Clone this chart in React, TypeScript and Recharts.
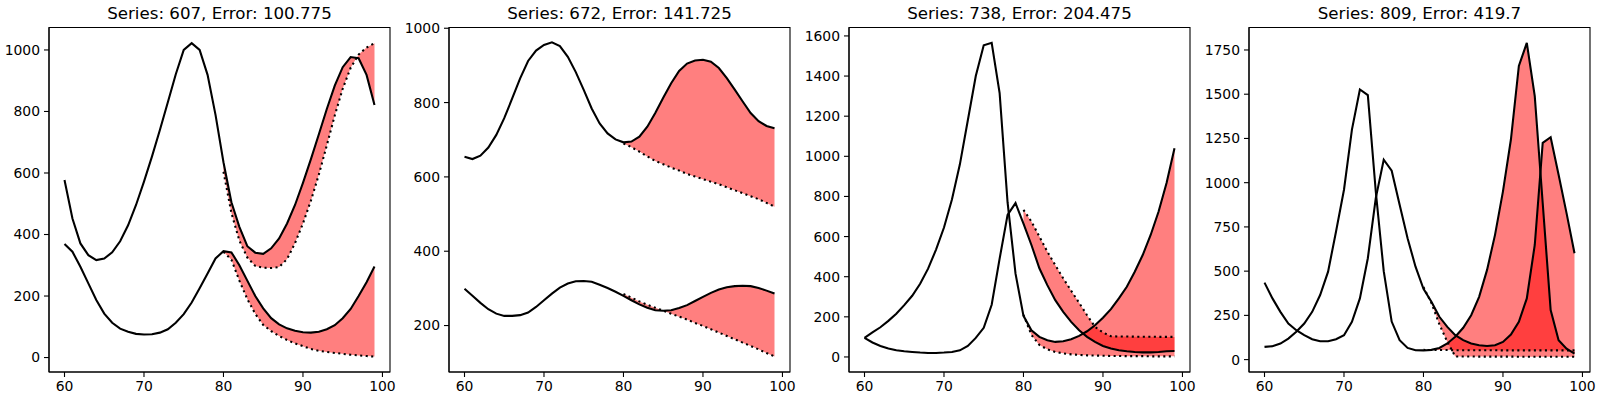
import React from 'react';
import { ComposedChart, Line, Area, XAxis, YAxis, ReferenceArea } from 'recharts';

// x positions (time steps)
const X = [60, 61, 62, 63, 64, 65, 66, 67, 68, 69, 70, 71, 72, 73, 74, 75, 76, 77, 78, 79,
  80, 81, 82, 83, 84, 85, 86, 87, 88, 89, 90, 91, 92, 93, 94, 95, 96, 97, 98, 99];
const FORECAST_START = 80;
const X_TICKS = [60, 70, 80, 90, 100];
const X_DOMAIN: [number, number] = [58.05, 100.95];

const TITLES = [
  'Series: 607, Error: 100.775',
  'Series: 672, Error: 141.725',
  'Series: 738, Error: 204.475',
  'Series: 809, Error: 419.7',
];

// Panel 1 (Series 607)
const P1_A = [577, 452, 371, 333, 317, 322, 342, 378, 430, 496, 572, 653, 740, 830, 921, 1000, 1022, 1000, 919, 789,
  635, 505, 425, 362, 341, 337, 355, 387, 436, 496, 568, 645, 726, 808, 884, 944, 977, 973, 919, 821];
const P1_B = [369, 344, 295, 241, 187, 143, 113, 94, 84, 77, 75, 76, 81, 92, 113, 141, 179, 225, 273, 322,
  346, 342, 300, 250, 200, 160, 128, 108, 95, 87, 82, 81, 84, 92, 105, 128, 158, 200, 245, 296];
const P1_PA = [604, 470, 380, 325, 298, 292, 291, 294, 320, 372, 436, 510, 595, 690, 787, 874, 942, 985, 1008, 1022];
const P1_PB = [344, 318, 250, 190, 142, 106, 86, 70, 57, 46, 37, 28, 22, 18, 15, 12, 9, 7, 5, 3];
const P1_YTICKS = [0, 200, 400, 600, 800, 1000];
const P1_YDOMAIN: [number, number] = [-47, 1073];

// Panel 2 (Series 672)
const P2_A = [654, 648, 657, 679, 713, 758, 811, 865, 912, 940, 955, 962, 952, 923, 882, 834, 784, 744, 717, 701,
  693, 695, 708, 735, 772, 813, 852, 885, 905, 913, 915, 910, 893, 866, 835, 803, 772, 750, 737, 731];
const P2_B = [299, 280, 261, 244, 232, 226, 226, 228, 235, 250, 268, 286, 302, 313, 319, 320, 318, 310, 301, 291,
  280, 268, 257, 248, 241, 240, 241, 247, 255, 266, 277, 288, 297, 303, 306, 307, 306, 301, 294, 286];
const P2_PA = [690, 680, 668, 655, 643, 634, 625, 617, 608, 601, 594, 587, 580, 572, 564, 556, 548, 540, 530, 520];
const P2_PB = [285, 275, 265, 256, 248, 240, 232, 224, 216, 207, 199, 190, 181, 172, 163, 154, 145, 136, 126, 117];
const P2_YTICKS = [200, 400, 600, 800, 1000];
const P2_YDOMAIN: [number, number] = [75, 1002];

// Panel 3 (Series 738)
const P3_A = [95, 122, 148, 180, 215, 258, 305, 365, 440, 535, 645, 785, 960, 1180, 1400, 1553, 1566, 1315, 770, 415,
  205, 133, 100, 83, 75, 78, 88, 105, 128, 158, 195, 238, 292, 350, 425, 508, 608, 725, 867, 1040];
const P3_B = [95, 72, 55, 42, 33, 28, 25, 22, 20, 20, 22, 25, 33, 55, 95, 145, 260, 490, 708, 767,
  665, 558, 442, 358, 283, 225, 175, 133, 100, 75, 55, 42, 33, 28, 25, 23, 23, 25, 28, 30];
const P3_PA = [210, 110, 60, 38, 25, 18, 13, 10, 8, 7, 6, 5, 5, 4, 4, 4, 3, 3, 3, 3];
const P3_PB = [733, 675, 600, 525, 458, 392, 330, 270, 208, 150, 122, 103, 102, 102, 101, 101, 101, 100, 100, 100];
const P3_YTICKS = [0, 200, 400, 600, 800, 1000, 1200, 1400, 1600];
const P3_YDOMAIN: [number, number] = [-75, 1642];

// Panel 4 (Series 809)
const P4_A = [72, 76, 91, 119, 157, 204, 270, 365, 497, 724, 960, 1300, 1527, 1495, 950, 500, 215, 110, 66, 53,
  52, 55, 66, 91, 129, 180, 251, 355, 507, 705, 951, 1244, 1660, 1790, 1489, 885, 280, 110, 62, 34];
const P4_B = [435, 346, 270, 204, 166, 138, 115, 104, 104, 115, 138, 214, 346, 573, 913, 1130, 1068, 875, 686, 525,
  400, 327, 242, 185, 138, 110, 91, 81, 77, 81, 100, 142, 214, 346, 648, 1225, 1257, 1045, 828, 601];
const P4_PA = [55, 54, 54, 54, 53, 53, 53, 53, 53, 53, 52, 52, 52, 52, 52, 52, 52, 52, 52, 52];
const P4_PB = [410, 320, 200, 100, 18, 18, 18, 17, 17, 17, 17, 17, 16, 16, 16, 16, 16, 16, 16, 16];
const P4_YTICKS = [0, 250, 500, 750, 1000, 1250, 1500, 1750];
const P4_YDOMAIN: [number, number] = [-70, 1877];

const PANELS = [
  { title: TITLES[0], a: P1_A, b: P1_B, pa: P1_PA, pb: P1_PB, yTicks: P1_YTICKS, yDomain: P1_YDOMAIN },
  { title: TITLES[1], a: P2_A, b: P2_B, pa: P2_PA, pb: P2_PB, yTicks: P2_YTICKS, yDomain: P2_YDOMAIN },
  { title: TITLES[2], a: P3_A, b: P3_B, pa: P3_PA, pb: P3_PB, yTicks: P3_YTICKS, yDomain: P3_YDOMAIN },
  { title: TITLES[3], a: P4_A, b: P4_B, pa: P4_PA, pb: P4_PB, yTicks: P4_YTICKS, yDomain: P4_YDOMAIN },
];

function buildRows(a: number[], b: number[], pa: number[], pb: number[]) {
  const start = X.indexOf(FORECAST_START);
  return X.map((x, i) => {
    const j = i - start;
    const has = j >= 0;
    return {
      x,
      a: a[i],
      b: b[i],
      pa: has ? pa[j] : null,
      pb: has ? pb[j] : null,
      fa: has ? [pa[j], a[i]] : null,
      fb: has ? [pb[j], b[i]] : null,
    };
  });
}

const FONT = '"DejaVu Sans", sans-serif';
const tickStyle = { fill: '#000', fontSize: 13.9, fontFamily: FONT };
const lineStroke = { stroke: '#000', strokeWidth: 1.1 };

function Panel({ cfg }: { cfg: typeof PANELS[number] }) {
  const rows = buildRows(cfg.a, cfg.b, cfg.pa, cfg.pb);
  return (
    <div style={{ position: 'relative', width: 400, height: 400, flex: '0 0 400px' }}>
      <ComposedChart width={400} height={400} data={rows} margin={{ top: 27.5, right: 10, bottom: 0, left: 0 }}>
        <XAxis
          type="number"
          dataKey="x"
          domain={X_DOMAIN}
          ticks={X_TICKS}
          interval={0}
          allowDataOverflow
          height={28}
          tickSize={5}
          tickMargin={4}
          tick={tickStyle}
          tickLine={lineStroke}
          axisLine={lineStroke}
        />
        <YAxis
          type="number"
          domain={cfg.yDomain}
          ticks={cfg.yTicks}
          interval={0}
          allowDataOverflow
          width={49}
          tickSize={5}
          tickMargin={4}
          tick={tickStyle}
          tickLine={lineStroke}
          axisLine={lineStroke}
        />
        <Area type="linear" dataKey="fa" fill="#ff0000" fillOpacity={0.5} stroke="none" dot={false} activeDot={false} isAnimationActive={false} />
        <Area type="linear" dataKey="fb" fill="#ff0000" fillOpacity={0.5} stroke="none" dot={false} activeDot={false} isAnimationActive={false} />
        <Line type="linear" dataKey="a" stroke="#000" strokeWidth={2.08} dot={false} activeDot={false} isAnimationActive={false} />
        <Line type="linear" dataKey="b" stroke="#000" strokeWidth={2.08} dot={false} activeDot={false} isAnimationActive={false} />
        <Line type="linear" dataKey="pa" stroke="#000" strokeWidth={2.08} strokeDasharray="2.08 3.44" dot={false} activeDot={false} isAnimationActive={false} />
        <Line type="linear" dataKey="pb" stroke="#000" strokeWidth={2.08} strokeDasharray="2.08 3.44" dot={false} activeDot={false} isAnimationActive={false} />
        <ReferenceArea
          x1={X_DOMAIN[0]}
          x2={X_DOMAIN[1]}
          y1={cfg.yDomain[0]}
          y2={cfg.yDomain[1]}
          fill="none"
          fillOpacity={0}
          stroke="#000"
          strokeWidth={1.1}
          ifOverflow="visible"
        />
        <text
          x={219.5}
          y={18.5}
          textAnchor="middle"
          fontFamily={FONT}
          fontSize={16.67}
          fill="#000"
        >
          {cfg.title}
        </text>
      </ComposedChart>
    </div>
  );
}

export default function App() {
  return (
    <div style={{ position: 'absolute', left: 0, top: 0, width: 1600, height: 400, display: 'flex', background: '#fff', overflow: 'hidden' }}>
      {PANELS.map((p, i) => (
        <Panel key={i} cfg={p} />
      ))}
    </div>
  );
}
